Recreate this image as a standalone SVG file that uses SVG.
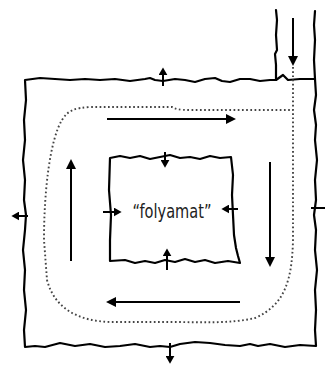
<svg xmlns="http://www.w3.org/2000/svg" width="325" height="365" viewBox="0 0 325 365">
<style>
.box{fill:none;stroke:#000;stroke-width:2.2;stroke-linejoin:round;stroke-linecap:round}
.arr{fill:none;stroke:#000;stroke-width:2}
.dot{fill:none;stroke:#444;stroke-width:1.9;stroke-dasharray:1.7 2.5}
.lbl{font-family:"DejaVu Sans Condensed","Liberation Sans Narrow","Liberation Sans",sans-serif;font-size:19px;fill:#222}
</style>
<defs>
<marker id="big" viewBox="0 0 10 10" refX="3" refY="5" markerWidth="10" markerHeight="11" markerUnits="userSpaceOnUse" orient="auto"><path d="M0,0 L10,5 L0,10 z" fill="#000"/></marker>
<marker id="sm" viewBox="0 0 7 8" refX="2" refY="4" markerWidth="8" markerHeight="9" markerUnits="userSpaceOnUse" orient="auto"><path d="M0,0 L7,4 L0,8 z" fill="#000"/></marker>
</defs>
<rect width="325" height="365" fill="#fff"/>
<g id="outer">
<polyline class="box" points="25,80 40,78 55,79 70,80 85,79 100,80 115,79 130,81 145,79 150,78 155,80 163,81 175,79 185,80 195,82 205,79 215,78 222,81 230,82 240,79 250,79 260,81 270,80 276,80 283,75 288,80 300,79 315,79 316,95 314,110 316,125 315,140 317,160 315,180 316,200 314,215 316,230 315,250 317,270 315,290 316,310 315,330 316,346 300,345 285,347 270,344 258,346 250,344 240,346 225,345 210,343 195,342 180,344 170,347 160,346 150,347 135,344 120,346 105,347 90,344 75,346 60,343 45,347 35,346 25,347 24,330 26,310 24,290 25,270 23,250 25,230 26,215 24,200 25,180 23,160 25,140 24,120 26,100 25,80"/>
<polyline class="box" points="276,80 276,65 275,54 277,50 276,35 277,20 276,10"/>
<polyline class="box" points="315,79 314,60 315,40 314,25 315,11"/>
</g>
<g id="inner">
<polyline class="box" points="110,158 120,156 130,158 140,156 150,159 160,157 170,155 180,158 190,157 200,159 210,156 220,158 231,157 233,175 232,195 233,215 234,235 236,248 238,256 240,263 228,261 215,263 205,260 195,262 185,259 175,262 165,260 155,263 145,261 135,263 125,260 110,261 110,240 111,215 109,190 110,158"/>
<text class="lbl" x="172" y="218" text-anchor="middle" textLength="79" lengthAdjust="spacingAndGlyphs">“folyamat”</text>
</g>
<g id="connectors">
<path class="dot" d="M293,67 L293,240 C292,280 285,305 255,318 C230,324 200,322 170,322 L110,322 C80,321 55,310 47,280 L44,240 C44,190 50,140 62,120 C68,110 75,108 90,107 L172,107 C176,109 178,110 190,110 L293,110"/>
<line class="arr" x1="293" y1="18" x2="293" y2="59" marker-end="url(#big)"/>
<line class="arr" x1="107" y1="119" x2="229" y2="119" marker-end="url(#big)"/>
<line class="arr" x1="71" y1="261" x2="71" y2="166" marker-end="url(#big)"/>
<line class="arr" x1="270" y1="162" x2="270" y2="260" marker-end="url(#big)"/>
<line class="arr" x1="240" y1="302" x2="113" y2="302" marker-end="url(#big)"/>
<line class="arr" x1="163" y1="86" x2="163" y2="73" marker-end="url(#sm)"/>
<line class="arr" x1="28" y1="216" x2="17" y2="216" marker-end="url(#sm)"/>
<line class="arr" x1="170" y1="343" x2="170" y2="358" marker-end="url(#sm)"/>
<line class="arr" x1="311" y1="208" x2="325" y2="208"/>
<line class="arr" x1="165" y1="152" x2="165" y2="162" marker-end="url(#sm)"/>
<line class="arr" x1="167" y1="270" x2="167" y2="254" marker-end="url(#sm)"/>
<line class="arr" x1="103" y1="212" x2="116" y2="212" marker-end="url(#sm)"/>
<line class="arr" x1="238" y1="209" x2="227" y2="209" marker-end="url(#sm)"/>
</g>
</svg>
